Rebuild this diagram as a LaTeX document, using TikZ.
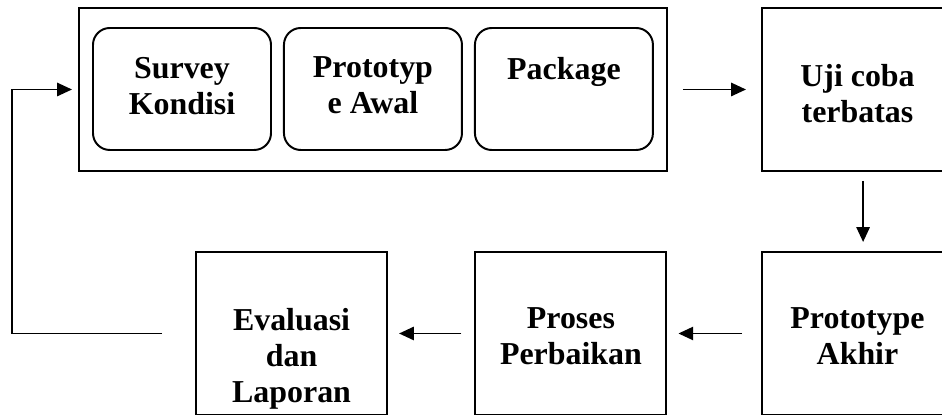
\documentclass[tikz,border=0pt]{standalone}
\usepackage{fontspec}
\setmainfont{Liberation Serif}
\usetikzlibrary{positioning,arrows.meta}
\tikzset{
	wadah/.style={draw, minimum width=14.7cm, minimum height=4.075cm, inner sep=0},
	bulat/.style={draw, rounded corners=0.42cm, minimum width=4.45cm, minimum height=3.05cm, inner sep=0},
	kotak/.style={draw, minimum width=4.775cm, minimum height=4.075cm, inner sep=0},
	teks/.style={font=\fontsize{22.7}{25.6}\selectfont\bfseries, align=center, anchor=north, inner sep=0},
}

\begin{document}
\begin{tikzpicture}[line width=1.4pt, >={Triangle[length=0.37cm, width=0.33cm]}]
			%%%%% START %%%%%
			
			\clip (0, 0) rectangle (23.55, 10.375);
			
			% tahap awal
			\node[wadah] (wadah) at (9.325, 8.1375) {};
			\node[bulat] (survey) at (4.55, 8.15) {};
			\node[bulat, right=0.275cm of survey] (awal) {};
			\node[bulat, right=0.275cm of awal] (package) {};
			\node[teks] (tsurvey) at ([yshift=-0.725cm]survey.north) {Survey\\Kondisi};
			\node[teks] (tawal) at ([yshift=-0.725cm]awal.north) {Prototyp\\e Awal};
			\node[teks] (tpackage) at ([yshift=-0.725cm]package.north) {Package};
			
			\node[kotak] (uji) at (21.4375, 8.1375) {};
			\node[teks] (tuji) at ([yshift=-1.4cm]uji.north) {Uji coba\\terbatas};
			
			% baris bawah
			\node[kotak] (akhir) at (21.4375, 2.0375) {};
			\node[kotak, left=2.34cm of akhir] (proses) {};
			\node[kotak, left=2.16cm of proses] (evaluasi) {};
			\node[teks] (takhir) at ([yshift=-1.4cm]akhir.north) {Prototype\\Akhir};
			\node[teks] (tproses) at ([yshift=-1.4cm]proses.north) {Proses\\Perbaikan};
			\node[teks] (tevaluasi) at ([yshift=-1.4cm]evaluasi.north) {Evaluasi\\dan\\Laporan};
			
			% panah
			\draw[->, shorten <=0.375cm, shorten >=0.375cm] (wadah.east) -- (uji.west);
			\draw[->, shorten <=0.225cm, shorten >=0.225cm] ([xshift=0.14cm]uji.south) -- ([xshift=0.14cm]akhir.north);
			\draw[->, shorten <=0.475cm, shorten >=0.275cm] (akhir.west) -- (proses.east);
			\draw[->, shorten <=0.325cm, shorten >=0.275cm] (proses.west) -- (evaluasi.east);
			
			\coordinate (belok) at (0.3, 2.0375);
			\draw[->, shorten <=0.825cm, shorten >=0.15cm] (evaluasi.west) -- (belok) |- (wadah.west);
			
			%%%%% END %%%%%
		\end{tikzpicture}
\end{document}
